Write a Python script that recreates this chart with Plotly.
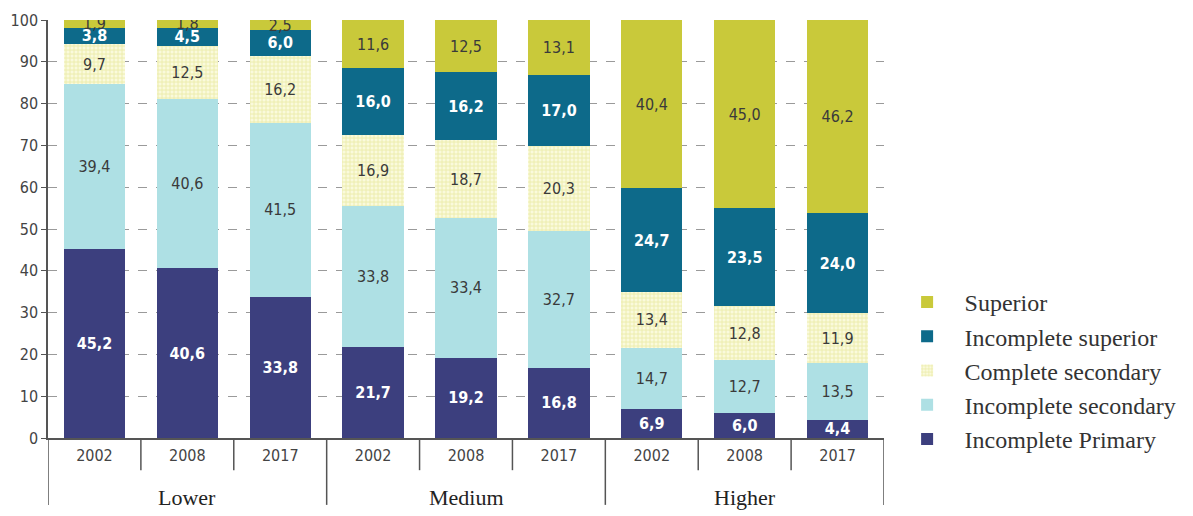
import plotly.graph_objects as go

years = ["2002", "2008", "2017", "2002", "2008", "2017", "2002", "2008", "2017"]
groups = ["Lower", "Medium", "Higher"]

incomplete_primary = [45.2, 40.6, 33.8, 21.7, 19.2, 16.8, 6.9, 6.0, 4.4]
incomplete_secondary = [39.4, 40.6, 41.5, 33.8, 33.4, 32.7, 14.7, 12.7, 13.5]
complete_secondary = [9.7, 12.5, 16.2, 16.9, 18.7, 20.3, 13.4, 12.8, 11.9]
incomplete_superior = [3.8, 4.5, 6.0, 16.0, 16.2, 17.0, 24.7, 23.5, 24.0]
superior = [1.9, 1.8, 2.5, 11.6, 12.5, 13.1, 40.4, 45.0, 46.2]

NUM_FONT = "DejaVu Sans Condensed, Liberation Sans Narrow, Roboto Condensed, Arial Narrow, sans-serif"
SERIF = "Liberation Serif, Times New Roman, serif"

series = [
    ("Incomplete Primary", incomplete_primary, "#3c3f7e", "white", True, None),
    ("Incomplete secondary", incomplete_secondary, "#aee0e4", "#3a3a3a", False, None),
    ("Complete secondary", complete_secondary, "#f7f7d2", "#3a3a3a", False, "+"),
    ("Incomplete superior", incomplete_superior, "#0d6a8a", "white", True, None),
    ("Superior", superior, "#c9c93a", "#3a3a3a", False, None),
]

x = list(range(len(years)))

fig = go.Figure()
n = len(series)
for i, (name, vals, color, tcolor, bold, pat) in enumerate(series):
    txt = [("<b>%s</b>" if bold else "%s") % (f"{v:.1f}".replace(".", ",")) for v in vals]
    marker = dict(color=color, line=dict(width=0))
    if pat:
        marker["pattern"] = dict(shape=pat, size=4, solidity=0.4,
                                 fgcolor="#dcdc78", bgcolor="#fafadc")
    fig.add_trace(go.Bar(
        x=x, y=vals, name=name, marker=marker,
        text=txt, textposition="inside", insidetextanchor="middle",
        textangle=0, constraintext="none",
        textfont=dict(family=NUM_FONT, size=16, color=tcolor),
        legendgroup=name, legendrank=n - i, hoverinfo="skip",
    ))

shapes = []
# year separators
for b in [0.5, 1.5, 3.5, 4.5, 6.5, 7.5]:
    shapes.append(dict(type="line", xref="x", yref="paper", x0=b, x1=b, y0=0, y1=-0.077,
                       line=dict(color="#555555", width=1.5)))
# group separators
for b in [-0.5, 2.5, 5.5, 8.5]:
    shapes.append(dict(type="line", xref="x", yref="paper", x0=b, x1=b, y0=0, y1=-0.16,
                       line=dict(color="#555555", width=1.5)))

annotations = []
for gi, g in enumerate(groups):
    annotations.append(dict(x=gi * 3 + 1, y=-0.142, xref="x", yref="paper", text=g,
                            showarrow=False, yanchor="middle",
                            font=dict(family=SERIF, size=22, color="#222222")))

fig.update_layout(
    barmode="stack",
    bargap=0.34,
    width=1193, height=516,
    margin=dict(l=48, r=308, t=20, b=78),
    plot_bgcolor="white", paper_bgcolor="white",
    showlegend=True,
    legend=dict(x=1.0055, y=0.378, xanchor="left", yanchor="top",
                traceorder="grouped", tracegroupgap=0,
                font=dict(family=SERIF, size=24, color="#333333"),
                itemwidth=65),
    shapes=shapes,
    annotations=annotations,
    xaxis=dict(range=[-0.5, 8.5], tickvals=x, ticktext=years, ticks="",
               showgrid=False, showline=True, linecolor="#555555", linewidth=1.5,
               tickfont=dict(family=NUM_FONT, size=16, color="#444444"),
               ticklabelstandoff=2),
    yaxis=dict(range=[0, 100], tickvals=list(range(0, 101, 10)), ticks="outside",
               ticklen=5, tickcolor="#555555",
               showline=True, linecolor="#555555", linewidth=1.5,
               showgrid=True, gridcolor="#9a9a9a", griddash="dash", gridwidth=1,
               zeroline=False,
               tickfont=dict(family=NUM_FONT, size=16, color="#444444")),
)

fig.write_html("out.html")
